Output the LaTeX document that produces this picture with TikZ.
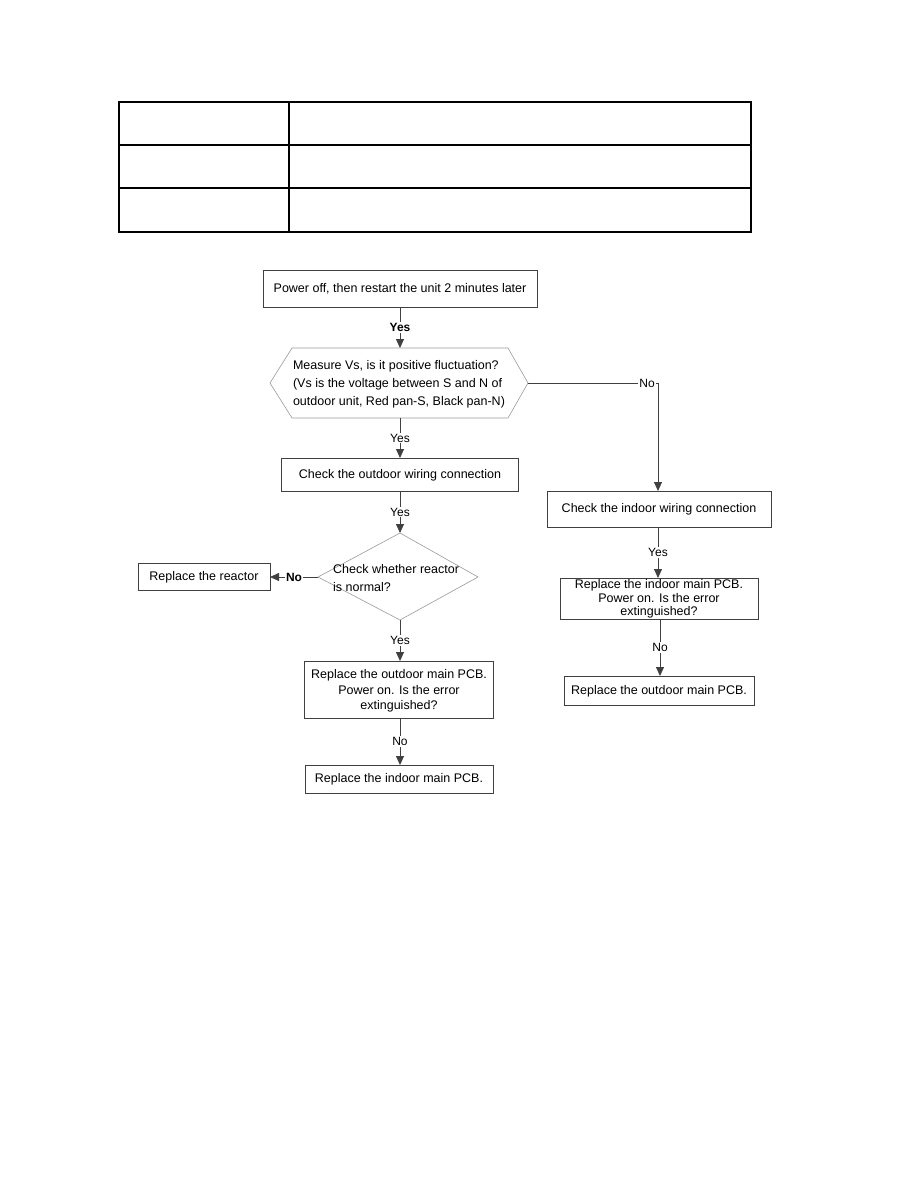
\documentclass[tikz,border=0pt]{standalone}
\usepackage{fontspec}
\setmainfont{Liberation Sans}
\usetikzlibrary{arrows.meta}
\begin{document}
\begin{tikzpicture}[x=1pt,y=-1pt,
  box/.style={draw=black!75,line width=0.8pt,inner sep=0pt},
  txt/.style={font=\fontsize{12.5}{15.5}\selectfont,align=center,inner sep=1pt},
  lbl/.style={font=\fontsize{12}{14}\selectfont,inner sep=1pt,fill=white},
  blbl/.style={font=\fontsize{12}{14}\selectfont\bfseries,inner sep=1pt,fill=white},
  conn/.style={draw=black!75,line width=0.8pt,-{Triangle[length=9pt,width=8pt]}},
  plain/.style={draw=black!75,line width=0.8pt}]
\useasboundingbox (0,0) rectangle (918,1188);
% table
\draw[line width=1.2pt] (119,102) rectangle (751,232);
\draw[line width=1.2pt] (119,145) -- (751,145) (119,188) -- (751,188) (289,102) -- (289,232);
% boxes
\draw[box] (263,270) rectangle (537,307);
\node[txt] (b1) at (400,289) {Power off, then restart the unit 2 minutes later};
\coordinate (b1s) at (400,307);
% hexagon
\draw[draw=black!40,line width=0.6pt] (270,383) -- (292,348) -- (508,348) -- (528,383) -- (508,418) -- (292,418) -- cycle;
\node[txt,align=left,font=\fontsize{12.5}{18}\selectfont] (hx) at (399,384) {Measure Vs, is it positive fluctuation?\\(Vs is the voltage between S and N of\\outdoor unit, Red pan-S, Black pan-N)};
\coordinate (hxn) at (400,348);
\coordinate (hxs) at (400,418);
\coordinate (hxe) at (528,383);
% outdoor wiring
\draw[box] (281,458) rectangle (518,491);
\node[txt] (ow) at (400,475) {Check the outdoor wiring connection};
\coordinate (own) at (400,458);
\coordinate (ows) at (400,491);
% diamond
\draw[draw=black!40,line width=0.6pt] (400,533) -- (478,577) -- (400,620) -- (318,577) -- cycle;
\node[txt,align=left,anchor=west,font=\fontsize{12.5}{18}\selectfont] (dm) at (332,578) {Check whether reactor\\is normal?};
\coordinate (dmn) at (400,533);
\coordinate (dms) at (400,620);
\coordinate (dmw) at (318,577);
% reactor
\draw[box] (138,563) rectangle (270,590);
\node[txt] (rr) at (204,577) {Replace the reactor};
\coordinate (rre) at (270,577);
% outdoor PCB
\draw[box] (304,661) rectangle (493,718);
\node[txt] (op) at (399,691) {Replace the outdoor main PCB.\\Power on. Is the error\\extinguished?};
\coordinate (opn) at (400,661);
\coordinate (ops) at (400,718);
% indoor PCB final
\draw[box] (305,765) rectangle (493,793);
\node[txt] (ip) at (399,779) {Replace the indoor main PCB.};
\coordinate (ipn) at (400,765);
% right branch
\draw[box] (547,491) rectangle (771,527);
\node[txt] (iw) at (659,509) {Check the indoor wiring connection};
\coordinate (iwn) at (658,491);
\coordinate (iws) at (658,527);
\draw[box] (560,578) rectangle (758,619);
\node[txt,font=\fontsize{12.5}{13.5}\selectfont] (ri) at (659,599) {Replace the indoor main PCB.\\Power on. Is the error\\extinguished?};
\coordinate (rin) at (658,578);
\coordinate (ris) at (660,619);
\draw[box] (564,676) rectangle (754,705);
\node[txt] (ro) at (659,691) {Replace the outdoor main PCB.};
\coordinate (ron) at (660,676);
\coordinate (corner) at (658,383);
% connectors
\draw[conn] (b1s) -- node[blbl] {Yes} (hxn);
\draw[conn] (hxs) -- node[lbl] {Yes} (own);
\draw[conn] (ows) -- node[lbl] {Yes} (dmn);
\draw[conn] (dmw) -- node[blbl] {No} (rre);
\draw[conn] (dms) -- node[lbl] {Yes} (opn);
\draw[conn] (ops) -- node[lbl] {No} (ipn);
\draw[conn] (hxe) -- (corner) -- (iwn);
\node[lbl] (nolbl) at (647,383) {No};
\draw[conn] (iws) -- node[lbl] {Yes} (rin);
\draw[conn] (ris) -- node[lbl] {No} (ron);
\end{tikzpicture}
\end{document}
